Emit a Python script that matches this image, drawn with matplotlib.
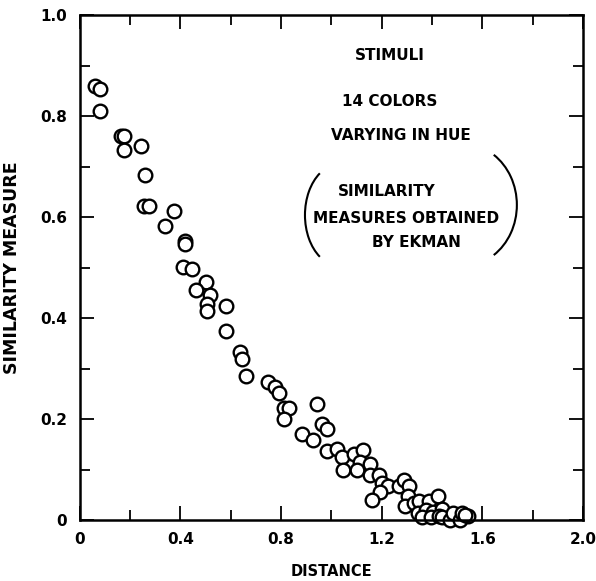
import numpy as np
import matplotlib
matplotlib.use("Agg")
import matplotlib.pyplot as plt
from matplotlib.patches import Arc
from matplotlib.ticker import MultipleLocator

# Similarity measure vs. distance, 14 colours varying in hue (Ekman data)
# values

distance = [0.06, 0.08, 0.08, 0.163, 0.175, 0.175, 0.243, 0.258, 0.255, 0.275,
            0.374, 0.338, 0.417, 0.42, 0.41, 0.445, 0.50, 0.46, 0.517, 0.505,
            0.505, 0.58, 0.582, 0.635, 0.644, 0.66, 0.75, 0.777, 0.79, 0.81,
            0.83, 0.81, 0.942, 0.962, 0.982, 0.885, 0.926, 0.982, 1.022, 1.044,
            1.09, 1.125, 1.113, 1.155, 1.046, 1.103, 1.152, 1.19, 1.203, 1.227,
            1.192, 1.16, 1.27, 1.287, 1.31, 1.303, 1.292, 1.33, 1.35, 1.388,
            1.425, 1.344, 1.376, 1.404, 1.44, 1.36, 1.396, 1.428, 1.44, 1.47,
            1.483, 1.51, 1.519, 1.543, 1.53]
similarity = [0.86, 0.853, 0.81, 0.76, 0.76, 0.732, 0.74, 0.683, 0.622, 0.622,
              0.612, 0.582, 0.553, 0.547, 0.502, 0.498, 0.472, 0.455, 0.445, 0.428,
              0.413, 0.424, 0.374, 0.332, 0.318, 0.285, 0.273, 0.264, 0.252, 0.221,
              0.222, 0.2, 0.229, 0.19, 0.181, 0.17, 0.159, 0.137, 0.14, 0.124,
              0.131, 0.139, 0.115, 0.11, 0.099, 0.1, 0.089, 0.09, 0.074, 0.067,
              0.056, 0.04, 0.067, 0.079, 0.067, 0.047, 0.028, 0.033, 0.038, 0.037,
              0.047, 0.014, 0.02, 0.016, 0.021, 0.006, 0.006, 0.008, 0.006, 0.0,
              0.014, 0.0, 0.014, 0.007, 0.01]

x_ticks = [0, 0.4, 0.8, 1.2, 1.6, 2.0]
x_ticklabels = ["0", "0.4", "0.8", "1.2", "1.6", "2.0"]
y_ticks = [0, 0.2, 0.4, 0.6, 0.8, 1.0]
y_ticklabels = ["0", "0.2", "0.4", "0.6", "0.8", "1.0"]

plt.rcParams['font.family'] = ['DejaVu Sans']
plt.rcParams['font.weight'] = 'bold'

fig = plt.figure(figsize=(5.96, 5.81), dpi=100)
ax = fig.add_axes([0.134, 0.105, 0.844, 0.869])

ax.plot(distance, similarity, 'o', markersize=9.8, markerfacecolor='white',
        markeredgecolor='black', markeredgewidth=1.7, clip_on=False)

ax.set_xlim(0, 2.0)
ax.set_ylim(0, 1.0)
ax.set_xticks(x_ticks)
ax.set_xticklabels(x_ticklabels)
ax.set_yticks(y_ticks)
ax.set_yticklabels(y_ticklabels)
ax.xaxis.set_minor_locator(MultipleLocator(0.2))
ax.yaxis.set_minor_locator(MultipleLocator(0.1))
ax.tick_params(which='both', direction='in', top=True, right=True, width=1.3)
ax.tick_params(which='major', length=10, labelsize=11, pad=9)
ax.tick_params(which='minor', length=7)
for s in ax.spines.values():
    s.set_linewidth(1.8)

ax.set_xlabel("DISTANCE", fontsize=10.5, fontweight='bold', labelpad=12)
ax.set_ylabel("SIMILARITY MEASURE", fontsize=12.5, fontweight='bold', labelpad=14)

# annotation in the upper right
fs = 11
ax.text(1.233, 0.92, "STIMULI", ha='center', va='center', fontsize=fs)
ax.text(1.233, 0.828, "14 COLORS", ha='center', va='center', fontsize=fs)
ax.text(1.276, 0.762, "VARYING IN HUE", ha='center', va='center', fontsize=fs)
ax.text(1.22, 0.65, "SIMILARITY", ha='center', va='center', fontsize=fs)
ax.text(1.296, 0.598, "MEASURES OBTAINED", ha='center', va='center', fontsize=fs)
ax.text(1.34, 0.549, "BY EKMAN", ha='center', va='center', fontsize=fs)
ax.add_patch(Arc((1.034, 0.604), 0.278, 0.202, theta1=134, theta2=226, lw=1.5))
ax.add_patch(Arc((1.523, 0.624), 0.429, 0.242, theta1=-39, theta2=39, lw=1.5))

plt.savefig("out.png", dpi=100)
